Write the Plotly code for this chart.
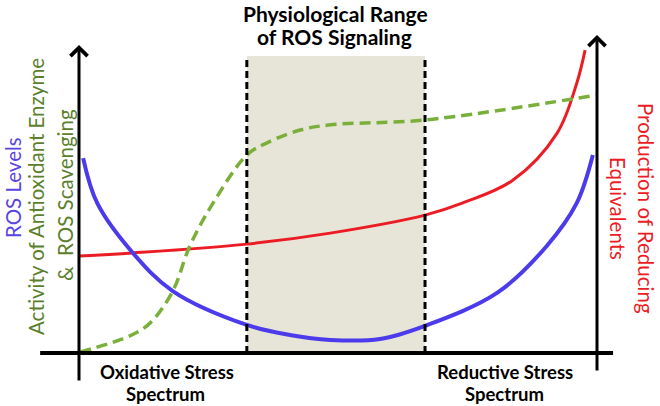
import plotly.graph_objects as go

W, H = 660, 406

# ---- data (conceptual units: x 0..10 along stress spectrum, y 0..10 level) ----
ros_x = [0.08, 0.35, 1.04, 1.81, 3.24, 4.07, 4.85, 5.81, 6.68, 8.07, 9.03, 9.61, 9.92]
ros_y = [6.39, 4.92, 3.28, 2.03, 0.92, 0.59, 0.43, 0.46, 0.89, 1.97, 3.51, 4.92, 6.49]

red_x = [0.02, 1.04, 3.24, 4.85, 6.68, 7.41, 8.38, 9.23, 9.61, 9.77]
red_y = [3.18, 3.28, 3.57, 3.93, 4.52, 4.92, 5.67, 7.21, 8.85, 9.93]

grn_x = [0.02, 0.98, 1.37, 1.81, 2.14, 2.59, 3.24, 3.63, 4.27, 4.85, 6.68, 10.0]
grn_y = [0.03, 0.56, 0.98, 2.03, 3.51, 4.92, 6.49, 6.89, 7.31, 7.48, 7.64, 8.46]

phys_range = [3.24, 6.68]
phys_top = 9.74

# axis mapping (pixel layout)
x0px, xscale = 79, 51.8
y0px, yscale = 353, 30.5
xr = [-x0px / xscale, (W - x0px) / xscale]
yr = [(y0px - H) / yscale, y0px / yscale]

def px(p):
    return p / W

def py(p):
    return 1 - p / H

fig = go.Figure()

# shaded physiological range
fig.add_shape(type="rect", x0=phys_range[0], x1=phys_range[1], y0=0, y1=phys_top,
              fillcolor="#E7E4D8", line=dict(width=0), layer="below")
for xv in phys_range:
    fig.add_shape(type="line", x0=xv, x1=xv, y0=0, y1=phys_top,
                  line=dict(color="black", width=3, dash="7px,4px"))

fig.add_trace(go.Scatter(x=red_x, y=red_y, mode="lines",
                         line=dict(color="#EC1C24", width=3, shape="spline", smoothing=1.0)))
fig.add_trace(go.Scatter(x=ros_x, y=ros_y, mode="lines",
                         line=dict(color="#4B3BEA", width=4, shape="spline", smoothing=1.0)))
fig.add_trace(go.Scatter(x=grn_x, y=grn_y, mode="lines",
                         line=dict(color="#7AB03A", width=3.5, dash="11px,6px",
                                   shape="spline", smoothing=1.0)))

# axes
fig.add_shape(type="line", x0=-0.75, x1=10.31, y0=0, y1=0, line=dict(color="black", width=4))
fig.add_annotation(x=0, y=10.1, ax=0, ay=-0.95, axref="x", ayref="y", xref="x", yref="y",
                   text="", showarrow=True, arrowhead=4, arrowsize=1.1, arrowwidth=3,
                   arrowcolor="black")
fig.add_annotation(x=10.0, y=10.43, ax=10.0, ay=-0.62, axref="x", ayref="y", xref="x", yref="y",
                   text="", showarrow=True, arrowhead=4, arrowsize=1.1, arrowwidth=3,
                   arrowcolor="black")

FONT = "Lato"

def label(text, xp, yp, size, color, angle=0):
    fig.add_annotation(x=px(xp), y=py(yp), xref="paper", yref="paper", text=text,
                       showarrow=False, textangle=angle, xanchor="center", yanchor="middle",
                       font=dict(family=FONT, size=size, color=color))

label("<b>Physiological Range</b>", 335, 14, 21, "black")
label("<b>of ROS Signaling</b>", 334, 37, 21, "black")

label("<b>Oxidative Stress</b>", 167, 372, 18.5, "black")
label("<b>Spectrum</b>", 165, 394, 18.5, "black")
label("<b>Reductive Stress</b>", 505, 372, 18.5, "black")
label("<b>Spectrum</b>", 504, 394, 18.5, "black")

label("ROS Levels", 13, 188, 20.5, "#5A44E0", angle=-90)
label("Activity of Antioxidant Enzyme", 36, 197, 20.5, "#5B7F2C", angle=-90)
label("&amp;  ROS Scavenging", 65, 195, 20.5, "#5B7F2C", angle=-90)
label("Production of Reducing", 646, 208, 20.5, "#EC1C24", angle=90)
label("Equivalents", 618, 208, 20.5, "#EC1C24", angle=90)

fig.update_layout(width=W, height=H, margin=dict(l=0, r=0, t=0, b=0),
                  paper_bgcolor="white", plot_bgcolor="white", showlegend=False,
                  xaxis=dict(range=xr, visible=False, fixedrange=True),
                  yaxis=dict(range=yr, visible=False, fixedrange=True))

fig.write_html("out.html", config={"displayModeBar": False},
               post_script="document.body.style.margin='0px';document.body.style.overflow='hidden';")
